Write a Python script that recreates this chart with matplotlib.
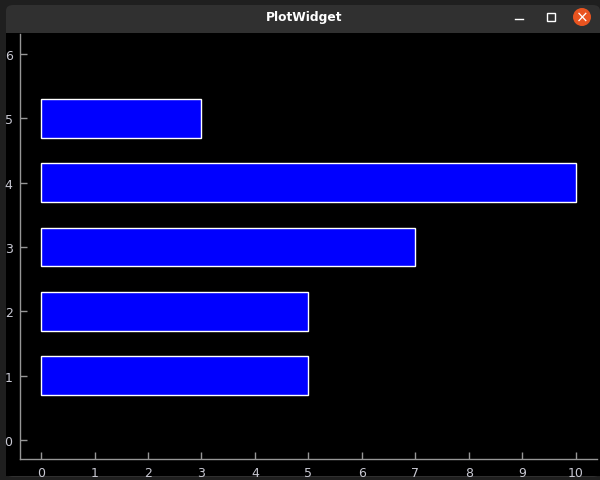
import matplotlib
matplotlib.use("Agg")
import matplotlib.pyplot as plt
from matplotlib.patches import FancyBboxPatch, Rectangle, Ellipse

# bar data
positions = [1, 2, 3, 4, 5]
widths = [5, 5, 7, 10, 3]
x_ticks = list(range(0, 11))
y_ticks = list(range(0, 7))

W, H = 600, 481
fig = plt.figure(figsize=(W / 100, H / 100), dpi=100, facecolor="#1f1f1f")


def fx(px):
    return px / W


def fy(py):
    return 1 - py / H


# window frame: title bar + black plot area
fig.patches.append(FancyBboxPatch((fx(6), fy(478)), fx(600) - fx(6), fy(6) - fy(478),
                                  boxstyle="round,pad=0,rounding_size=0.012",
                                  transform=fig.transFigure, facecolor="#303030",
                                  edgecolor="none", zorder=0))
fig.patches.append(Rectangle((fx(6), fy(477)), fx(600) - fx(6), fy(34) - fy(477),
                             transform=fig.transFigure, facecolor="black",
                             edgecolor="none", zorder=1))
fig.text(fx(304), fy(18), "PlotWidget", color="white", fontsize=8.8,
         fontweight="bold", ha="center", va="center")
fig.lines.append(plt.Line2D([fx(515), fx(523)], [fy(20), fy(20)],
                            transform=fig.transFigure, color="white", lw=1))
fig.patches.append(Rectangle((fx(547), fy(22)), fx(8), fy(14) - fy(22),
                             transform=fig.transFigure, facecolor="none",
                             edgecolor="white", lw=1))
fig.patches.append(Ellipse((fx(582), fy(18)), fx(18), 18 / H, transform=fig.transFigure,
                           facecolor="#e95420", edgecolor="none", zorder=2))
fig.text(fx(582), fy(18), "×", color="white", fontsize=11,
         ha="center", va="center", zorder=3)

# plot axes, limits matched to the pixel grid of the window
ax = fig.add_axes([fx(19.5), fy(460), fx(597) - fx(19.5), fy(35) - fy(460)])
ax.set_zorder(5)
ax.set_facecolor("black")
ax.barh(positions, widths, height=0.6, left=0, color="#0000ff",
        edgecolor="white", linewidth=1)
ax.set_xlim(-0.402, 10.393)
ax.set_ylim(-0.295, 6.311)
ax.set_xticks(x_ticks)
ax.set_yticks(y_ticks)

for side in ["top", "right"]:
    ax.spines[side].set_visible(False)
for side in ["left", "bottom"]:
    ax.spines[side].set_color("#969696")
    ax.spines[side].set_linewidth(1)
ax.tick_params(direction="in", length=5, width=1, color="#969696",
               labelcolor="#c8c8d2", labelsize=9, pad=5)

fig.savefig("out.png", dpi=100, facecolor=fig.get_facecolor())
